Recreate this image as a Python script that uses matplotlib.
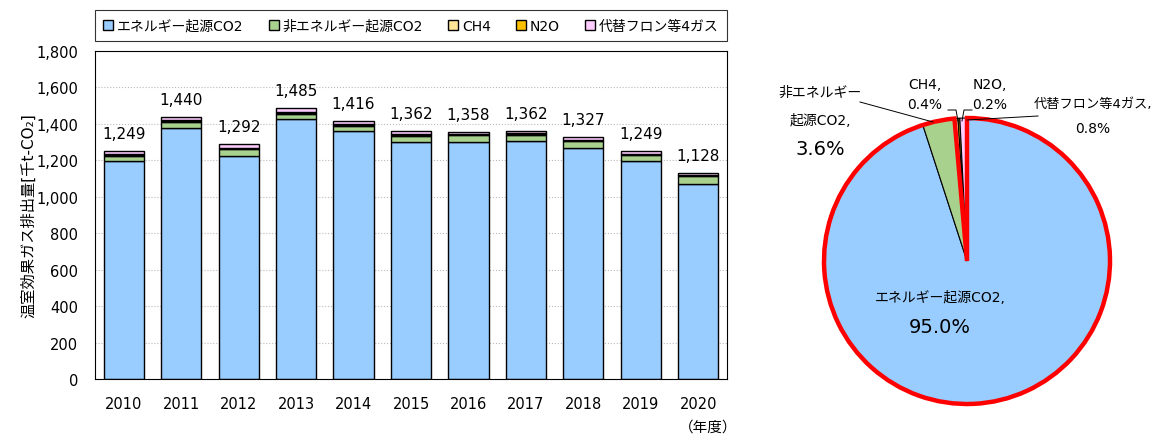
import matplotlib.pyplot as plt
from matplotlib.patches import Wedge

plt.rcParams['font.family'] = ['DejaVu Sans', 'Noto Sans CJK JP']

years = ['2010', '2011', '2012', '2013', '2014', '2015', '2016', '2017', '2018', '2019', '2020']
energy_co2 = [1196, 1378, 1224, 1425, 1360, 1302, 1301, 1307, 1270, 1196, 1072]
non_energy_co2 = [30, 33, 36, 30, 29, 32, 36, 33, 34, 33, 41]
ch4 = [5, 5, 5, 5, 5, 5, 5, 5, 5, 5, 4.5]
n2o = [3, 3, 3, 3, 3, 3, 3, 3, 3, 3, 2.3]
fluor = [15, 21, 24, 22, 19, 20, 13, 14, 15, 12, 8.2]
totals = [1249, 1440, 1292, 1485, 1416, 1362, 1358, 1362, 1327, 1249, 1128]

series_names = ['エネルギー起源CO2', '非エネルギー起源CO2', 'CH4', 'N2O', '代替フロン等4ガス']
colors = ['#99CCFF', '#A9D18E', '#FFE699', '#FFC000', '#FFCCFF']

# 2020 share (%)
pie_share = [95.0, 3.6, 0.4, 0.2, 0.8]

fig = plt.figure(figsize=(11.52, 4.35), dpi=100)

# ---- stacked bars ----
ax = fig.add_axes([95 / 1152, 55 / 435, 632 / 1152, 328 / 435])
x = range(len(years))
bottom = [0] * len(years)
for vals, name, c in zip([energy_co2, non_energy_co2, ch4, n2o, fluor], series_names, colors):
    ax.bar(x, vals, bottom=bottom, width=0.7, color=c, edgecolor='black', linewidth=1.0,
           label=name, zorder=2)
    bottom = [b + v for b, v in zip(bottom, vals)]

for i, t in enumerate(totals):
    ax.text(i, bottom[i] + 55, f'{t:,}', ha='center', va='bottom', fontsize=11)

ax.set_xlim(-0.5, len(years) - 0.5)
ax.set_ylim(0, 1800)
ax.set_yticks(range(0, 1801, 200))
ax.set_yticklabels([f'{v:,}' for v in range(0, 1801, 200)])
ax.set_xticks(list(x))
ax.set_xticklabels(years)
ax.tick_params(axis='both', length=0, labelsize=10.5)
ax.tick_params(axis='x', pad=12)
ax.tick_params(axis='y', pad=12)
ax.grid(axis='y', linestyle=':', color='#BBBBBB', linewidth=0.8, zorder=0)
for s in ax.spines.values():
    s.set_color('black')
    s.set_linewidth(0.8)
ax.set_ylabel('温室効果ガス排出量[千t-CO₂]', fontsize=11, labelpad=0)

leg = ax.legend(loc='lower left', bbox_to_anchor=(0, 1.03, 1, 0.09), ncol=5, mode='expand',
                fontsize=10, frameon=True, fancybox=False, edgecolor='black',
                handlelength=0.7, handleheight=0.7, handletextpad=0.3, borderpad=0.6,
                borderaxespad=0)
leg.get_frame().set_linewidth(0.8)

fig.text(708 / 1152, 1 - 427 / 435, '（年度）', ha='center', va='center', fontsize=10.5)

# ---- pie ----
cx, cy, r = 967, 262, 143
ax2 = fig.add_axes([(cx - r) / 1152, (435 - cy - r) / 435, 2 * r / 1152, 2 * r / 435])
wedges, _ = ax2.pie(pie_share, colors=colors, startangle=90, counterclock=False,
                    wedgeprops=dict(edgecolor='black', linewidth=0.8))
# red outline around the CO2 part (energy + non-energy)
co2_deg = (pie_share[0] + pie_share[1]) / sum(pie_share) * 360
ax2.add_patch(Wedge((0, 0), 1, 90 - co2_deg, 90, facecolor='none', edgecolor='red',
                    linewidth=3.2, zorder=3, clip_on=False))
ax2.set_xlim(-1, 1)
ax2.set_ylim(-1, 1)
ax2.set_aspect('equal')
ax2.axis('off')


def px(xp, yp):
    return (xp - cx) / r, (cy - yp) / r


kw = dict(ha='center', va='center', fontsize=10, clip_on=False)
ax2.text(*px(820, 93), '非エネルギー', **kw)
ax2.text(*px(820, 121), '起源CO2,', **kw)
ax2.text(*px(820, 150), '3.6%', ha='center', va='center', fontsize=14, clip_on=False)
ax2.text(*px(925, 85), 'CH4,', **kw)
ax2.text(*px(925, 105), '0.4%', **kw)
ax2.text(*px(990, 85), 'N2O,', **kw)
ax2.text(*px(990, 105), '0.2%', **kw)
ax2.text(*px(1093, 104), '代替フロン等4ガス,', ha='center', va='center', fontsize=9.5,
         clip_on=False)
ax2.text(*px(1093, 129), '0.8%', **kw)
ax2.text(*px(940, 298), 'エネルギー起源CO2,', **kw)
ax2.text(*px(940, 328), '95.0%', ha='center', va='center', fontsize=14, clip_on=False)

# leader lines
for pts in [[(860, 103), (933, 123)],
            [(948, 111), (956, 111), (958, 122)],
            [(972, 111), (964, 111), (962, 122)],
            [(1038, 117), (967, 121)]]:
    xs, ys = zip(*[px(a, b) for a, b in pts])
    ax2.plot(xs, ys, color='black', linewidth=0.7, clip_on=False, zorder=4)

fig.savefig('out.png', dpi=100)
